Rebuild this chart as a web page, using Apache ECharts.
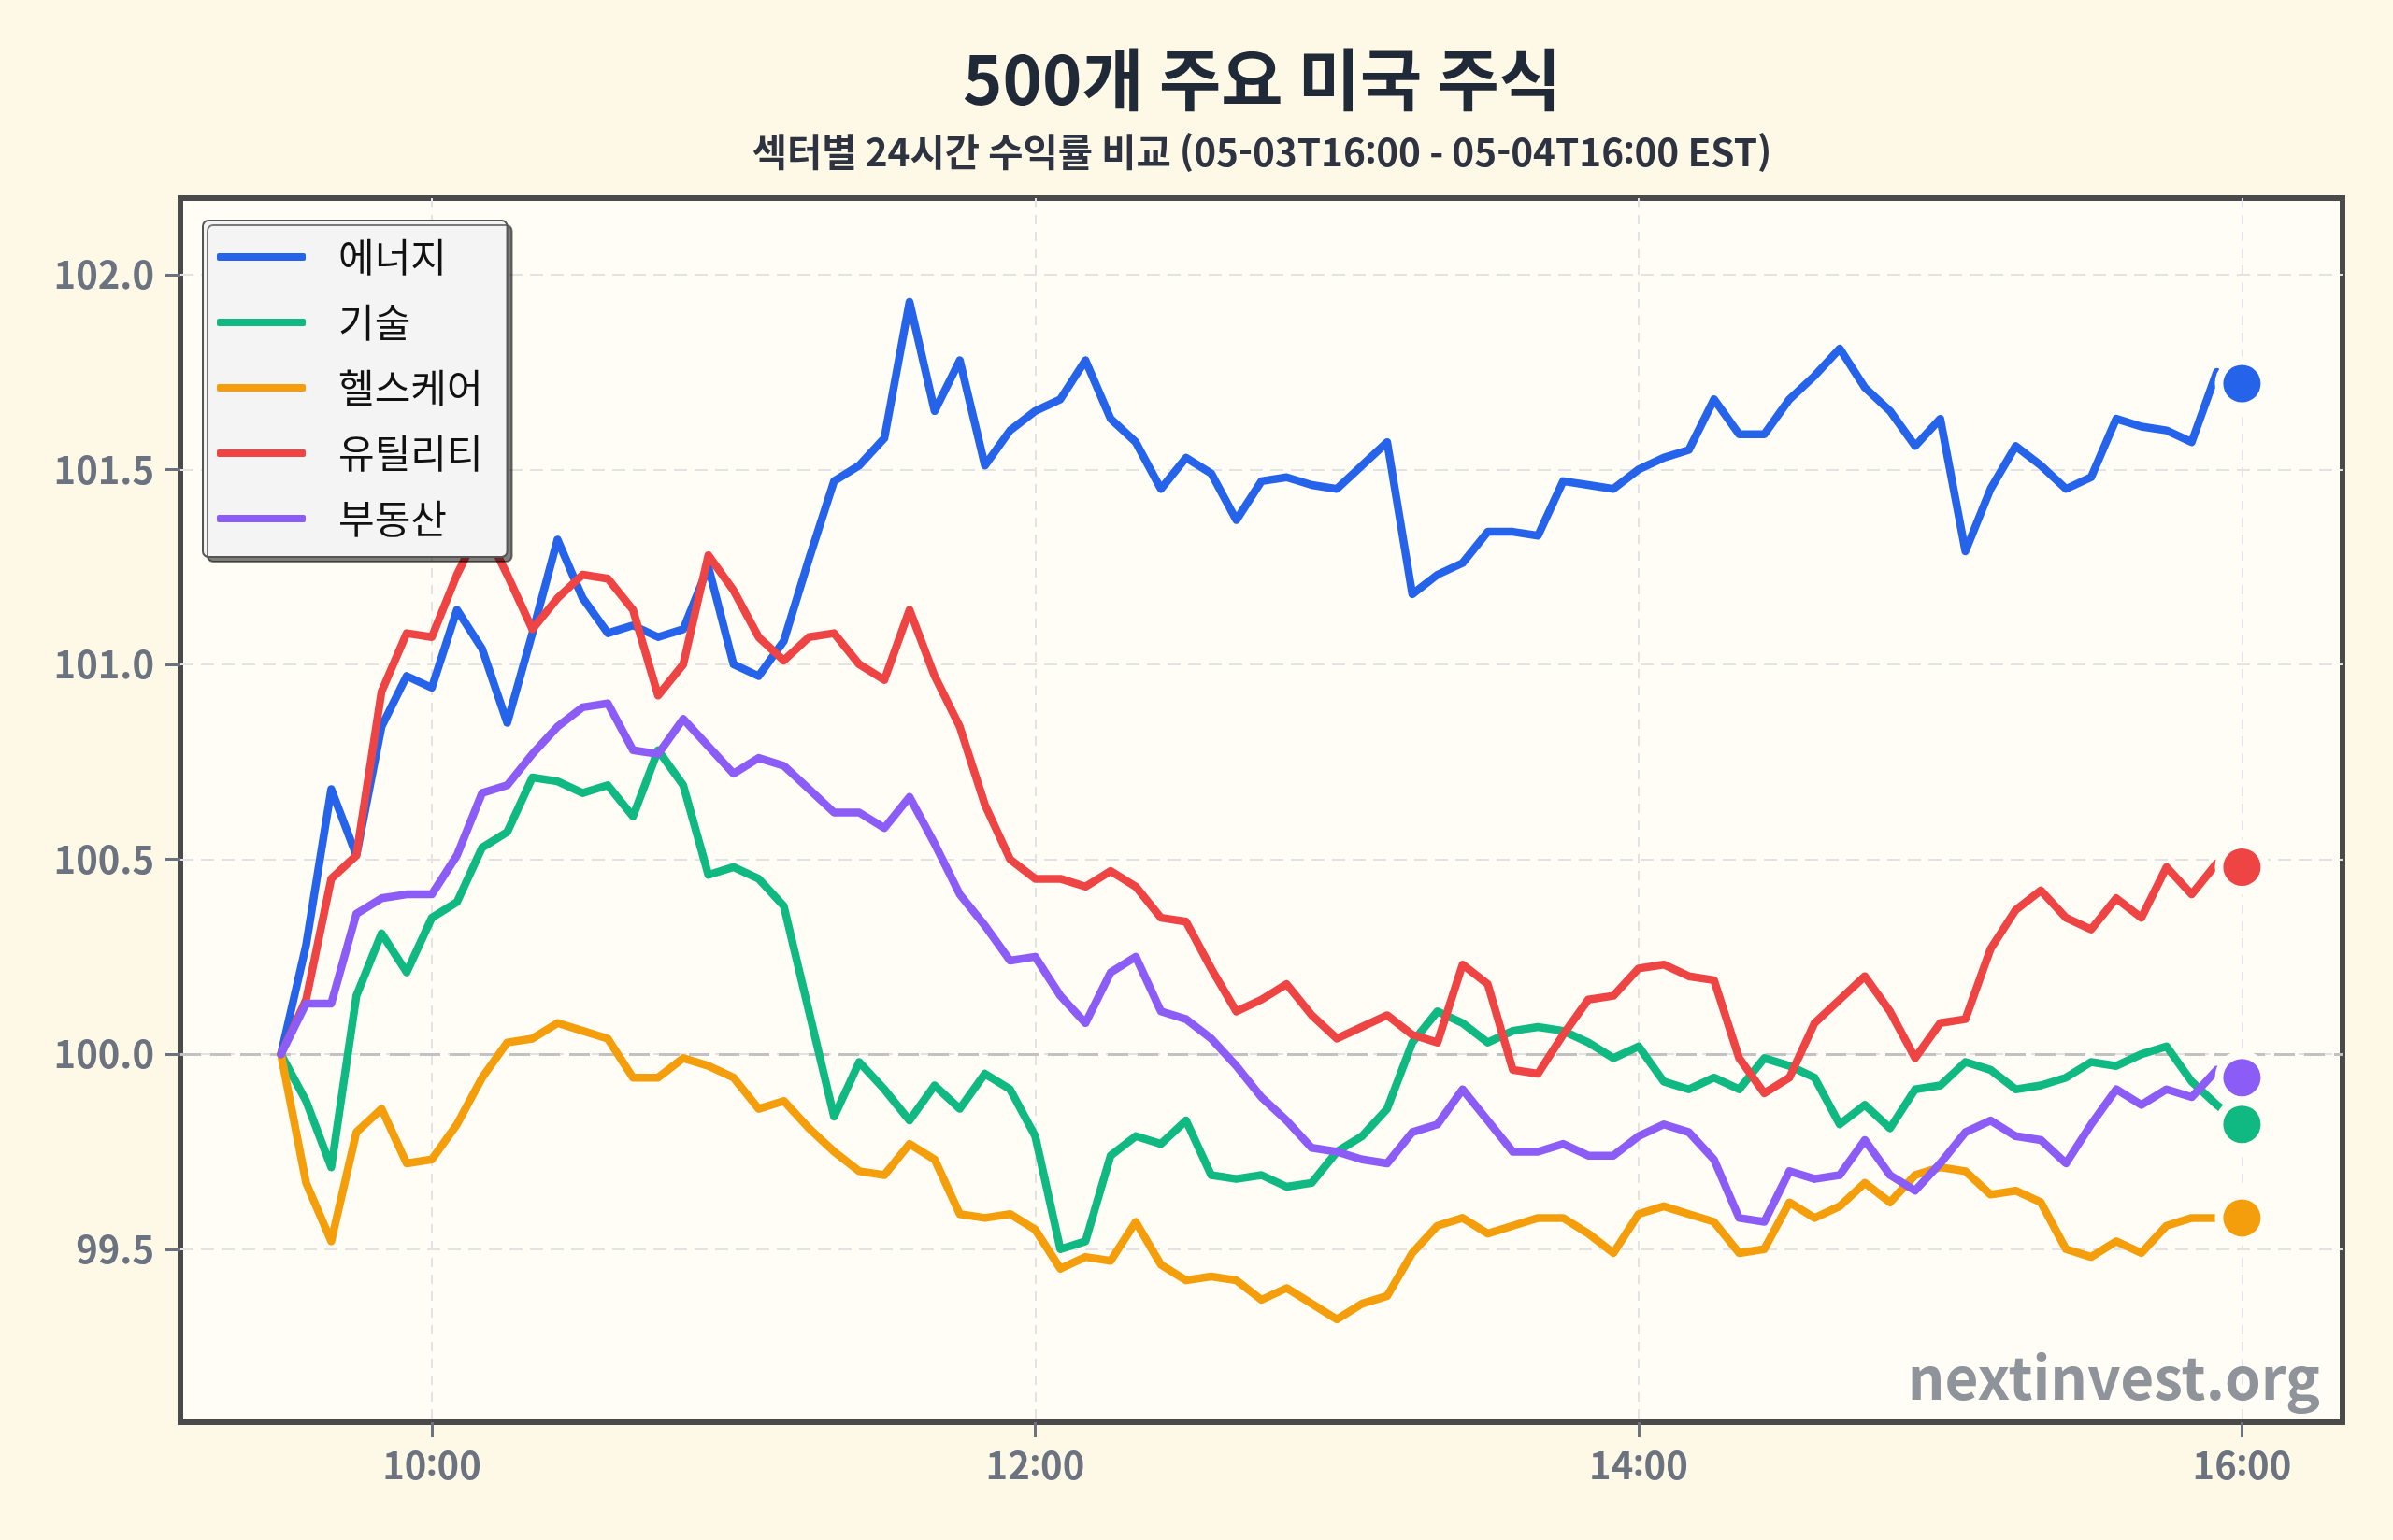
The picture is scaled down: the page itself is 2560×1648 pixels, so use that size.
<!DOCTYPE html>
<html lang="ko">

<head>
  <meta charset="UTF-8">
  <title>500개 주요 미국 주식</title>
  <script src="https://cdn.jsdelivr.net/npm/echarts@6.0.0/dist/echarts.min.js"></script>
  <style>
    html,
    body {
      padding: 0;
      margin: 0;
      background: #fef8e6;
    }

    #chart {
      width: 2560px;
      height: 1648px;
    }
  </style>
</head>

<body>
  <div id="chart"></div>
  <script>
    // 9:30 부터 5분 간격, 16:00 까지 (79개)
    const startMinute = 9 * 60 + 30
    const stepMinute = 5

    const sectorNames = ['에너지', '기술', '헬스케어', '유틸리티', '부동산']
    const sectorColors = ['#2563eb', '#10b981', '#f59e0b', '#ef4444', '#8b5cf6']

    const energy = [
      100.00, 100.28, 100.68, 100.51, 100.84, 100.97, 100.94, 101.14, 101.04, 100.85,
      101.08, 101.32, 101.17, 101.08, 101.10, 101.07, 101.09, 101.25, 101.00, 100.97,
      101.06, 101.27, 101.47, 101.51, 101.58, 101.93, 101.65, 101.78, 101.51, 101.60,
      101.65, 101.68, 101.78, 101.63, 101.57, 101.45, 101.53, 101.49, 101.37, 101.47,
      101.48, 101.46, 101.45, 101.51, 101.57, 101.18, 101.23, 101.26, 101.34, 101.34,
      101.33, 101.47, 101.46, 101.45, 101.50, 101.53, 101.55, 101.68, 101.59, 101.59,
      101.68, 101.74, 101.81, 101.71, 101.65, 101.56, 101.63, 101.29, 101.45, 101.56,
      101.51, 101.45, 101.48, 101.63, 101.61, 101.60, 101.57, 101.75, 101.72
    ]
    const tech = [
      100.00, 99.88, 99.71, 100.15, 100.31, 100.21, 100.35, 100.39, 100.53, 100.57,
      100.71, 100.70, 100.67, 100.69, 100.61, 100.78, 100.69, 100.46, 100.48, 100.45,
      100.38, 100.11, 99.84, 99.98, 99.91, 99.83, 99.92, 99.86, 99.95, 99.91,
      99.79, 99.50, 99.52, 99.74, 99.79, 99.77, 99.83, 99.69, 99.68, 99.69,
      99.66, 99.67, 99.75, 99.79, 99.86, 100.03, 100.11, 100.08, 100.03, 100.06,
      100.07, 100.06, 100.03, 99.99, 100.02, 99.93, 99.91, 99.94, 99.91, 99.99,
      99.97, 99.94, 99.82, 99.87, 99.81, 99.91, 99.92, 99.98, 99.96, 99.91,
      99.92, 99.94, 99.98, 99.97, 100.00, 100.02, 99.93, 99.87, 99.82
    ]
    const health = [
      100.00, 99.67, 99.52, 99.80, 99.86, 99.72, 99.73, 99.82, 99.94, 100.03,
      100.04, 100.08, 100.06, 100.04, 99.94, 99.94, 99.99, 99.97, 99.94, 99.86,
      99.88, 99.81, 99.75, 99.70, 99.69, 99.77, 99.73, 99.59, 99.58, 99.59,
      99.55, 99.45, 99.48, 99.47, 99.57, 99.46, 99.42, 99.43, 99.42, 99.37,
      99.40, 99.36, 99.32, 99.36, 99.38, 99.49, 99.56, 99.58, 99.54, 99.56,
      99.58, 99.58, 99.54, 99.49, 99.59, 99.61, 99.59, 99.57, 99.49, 99.50,
      99.62, 99.58, 99.61, 99.67, 99.62, 99.69, 99.71, 99.70, 99.64, 99.65,
      99.62, 99.50, 99.48, 99.52, 99.49, 99.56, 99.58, 99.58, 99.58
    ]
    const utility = [
      100.00, 100.14, 100.45, 100.51, 100.93, 101.08, 101.07, 101.23, 101.36, 101.23,
      101.09, 101.17, 101.23, 101.22, 101.14, 100.92, 101.00, 101.28, 101.19, 101.07,
      101.01, 101.07, 101.08, 101.00, 100.96, 101.14, 100.97, 100.84, 100.64, 100.50,
      100.45, 100.45, 100.43, 100.47, 100.43, 100.35, 100.34, 100.22, 100.11, 100.14,
      100.18, 100.10, 100.04, 100.07, 100.10, 100.05, 100.03, 100.23, 100.18, 99.96,
      99.95, 100.05, 100.14, 100.15, 100.22, 100.23, 100.20, 100.19, 99.99, 99.90,
      99.94, 100.08, 100.14, 100.20, 100.11, 99.99, 100.08, 100.09, 100.27, 100.37,
      100.42, 100.35, 100.32, 100.40, 100.35, 100.48, 100.41, 100.49, 100.48
    ]
    const realty = [
      100.00, 100.13, 100.13, 100.36, 100.40, 100.41, 100.41, 100.51, 100.67, 100.69,
      100.77, 100.84, 100.89, 100.90, 100.78, 100.77, 100.86, 100.79, 100.72, 100.76,
      100.74, 100.68, 100.62, 100.62, 100.58, 100.66, 100.54, 100.41, 100.33, 100.24,
      100.25, 100.15, 100.08, 100.21, 100.25, 100.11, 100.09, 100.04, 99.97, 99.89,
      99.83, 99.76, 99.75, 99.73, 99.72, 99.80, 99.82, 99.91, 99.83, 99.75,
      99.75, 99.77, 99.74, 99.74, 99.79, 99.82, 99.80, 99.73, 99.58, 99.57,
      99.70, 99.68, 99.69, 99.78, 99.69, 99.65, 99.72, 99.80, 99.83, 99.79,
      99.78, 99.72, 99.82, 99.91, 99.87, 99.91, 99.89, 99.96, 99.94
    ]

    const xTicks = [600, 720, 840, 960] // 10:00 ~ 16:00
    const yTicks = [99.5, 100.0, 100.5, 101.0, 101.5, 102.0]

    const sectorValues = [energy, tech, health, utility, realty]
    const FONT = '"Noto Sans CJK KR", "Noto Sans", sans-serif'
    const COLON_FONT = '"Noto Sans", sans-serif' // CJK 폰트의 콜론은 위로 떠 보여서 따로 지정
    const plotBg = '#fffdf6'

    const toPairs = arr => arr.map((v, i) => [startMinute + i * stepMinute, v])
    const pad2 = n => String(n).padStart(2, '0')
    // '{d|16}{c|:}{d|00}' 형식의 rich 텍스트
    const richTime = m => `{d|${pad2(Math.floor(m / 60))}}{c|:}{d|${pad2(m % 60)}}`

    const lineSeries = sectorValues.map((vals, k) => ({
      name: sectorNames[k],
      type: 'line',
      data: toPairs(vals),
      showSymbol: false,
      color: sectorColors[k],
      lineStyle: { width: 8.5, color: sectorColors[k], join: 'round', cap: 'round' },
      z: 3,
      markLine: k === 0 ? {
        silent: true,
        symbol: 'none',
        label: { show: false },
        lineStyle: { color: '#c2c2c4', type: [22, 10], width: 3 },
        data: [{ yAxis: 100 }],
        z: 2
      } : undefined
    }))

    // 마지막 값 표시 점 (배경색 테두리 + 색 점)
    const endPoints = sectorValues.map(vals => {
      const last = vals.length - 1
      return [startMinute + last * stepMinute, vals[last]]
    })
    const haloSeries = endPoints.map((p, k) => ({
      name: sectorNames[k] + '_halo',
      type: 'scatter',
      data: [p],
      symbolSize: 58,
      itemStyle: { color: plotBg, opacity: 1 },
      silent: true,
      z: 4
    }))
    const dotSeries = endPoints.map((p, k) => ({
      name: sectorNames[k] + '_end',
      type: 'scatter',
      data: [p],
      symbolSize: 40,
      itemStyle: { color: sectorColors[k], opacity: 1 },
      silent: true,
      z: 5
    }))

    const labelRich = {
      d: { fontFamily: FONT, fontSize: 40, fontWeight: 'bold', color: '#6b7280' },
      c: { fontFamily: COLON_FONT, fontSize: 40, fontWeight: 'bold', color: '#6b7280' }
    }
    const subRich = {
      t: { fontFamily: FONT, fontSize: 40.5, fontWeight: 'bold', fill: '#2d3340', color: '#2d3340' },
      c: { fontFamily: COLON_FONT, fontSize: 40.5, fontWeight: 'bold', fill: '#2d3340', color: '#2d3340' }
    }

    const chart = echarts.init(document.getElementById('chart'))
    chart.setOption({
      backgroundColor: '#fef8e6',
      animation: false,
      textStyle: { fontFamily: FONT },
      graphic: [
        {
          type: 'text', x: 1350, y: 85, z: 10,
          style: {
            text: '500개 주요 미국 주식', fill: '#1f2937',
            font: 'bold 72px ' + FONT, align: 'center', verticalAlign: 'middle'
          }
        },
        {
          type: 'text', x: 1350, y: 163, z: 10,
          style: {
            text: '{t|섹터별 24시간 수익률 비교 (05-03T16}{c|:}{t|00 - 05-04T16}{c|:}{t|00 EST)}',
            rich: subRich, fill: '#2d3340',
            font: 'bold 40.5px ' + FONT, align: 'center', verticalAlign: 'middle'
          }
        },
        {
          type: 'text', x: 2482, y: 1474, z: 10,
          style: {
            text: 'nextinvest.org', fill: '#8f949b',
            font: 'bold 62px ' + FONT, align: 'right', verticalAlign: 'middle'
          }
        }
      ],
      legend: {
        data: sectorNames,
        orient: 'vertical',
        left: 217,
        top: 236,
        icon: 'roundRect',
        itemWidth: 95,
        itemHeight: 8,
        itemGap: 20,
        padding: [14, 26, 16, 15],
        backgroundColor: '#f4f4f5',
        borderColor: '#555',
        borderWidth: 2,
        borderRadius: 6,
        shadowColor: 'rgba(0,0,0,0.5)',
        shadowOffsetX: 5,
        shadowOffsetY: 5,
        shadowBlur: 0,
        textStyle: {
          fontFamily: FONT, fontSize: 42, color: '#111', lineHeight: 50,
          padding: [0, 0, 0, 30]
        }
      },
      grid: {
        left: 193,
        right: 54,
        top: 212,
        bottom: 126,
        show: true,
        backgroundColor: plotBg,
        borderColor: '#4a4a4a',
        borderWidth: 6
      },
      xAxis: {
        type: 'value',
        min: 550,
        max: 980,
        axisLine: { show: false },
        axisTick: {
          show: true, length: 16, customValues: xTicks,
          lineStyle: { color: '#6b7280', width: 3 }
        },
        axisLabel: {
          customValues: xTicks, margin: 26,
          formatter: v => richTime(v),
          rich: labelRich,
          fontFamily: FONT, fontSize: 40, fontWeight: 'bold', color: '#6b7280'
        },
        splitLine: {
          show: true,
          lineStyle: { color: '#e3e3e3', width: 2, type: [10, 8] }
        }
      },
      yAxis: {
        type: 'value',
        min: 99.056,
        max: 102.196,
        axisLine: { show: false },
        axisTick: {
          show: true, length: 16, customValues: yTicks,
          lineStyle: { color: '#6b7280', width: 3 }
        },
        axisLabel: {
          customValues: yTicks, margin: 28,
          formatter: v => v.toFixed(1),
          fontFamily: FONT, fontSize: 40, fontWeight: 'bold', color: '#6b7280'
        },
        splitLine: {
          show: true,
          lineStyle: { color: '#e3e3e3', width: 2, type: [14, 8] }
        }
      },
      series: [...lineSeries, ...haloSeries, ...dotSeries]
    })
  </script>
</body>

</html>
